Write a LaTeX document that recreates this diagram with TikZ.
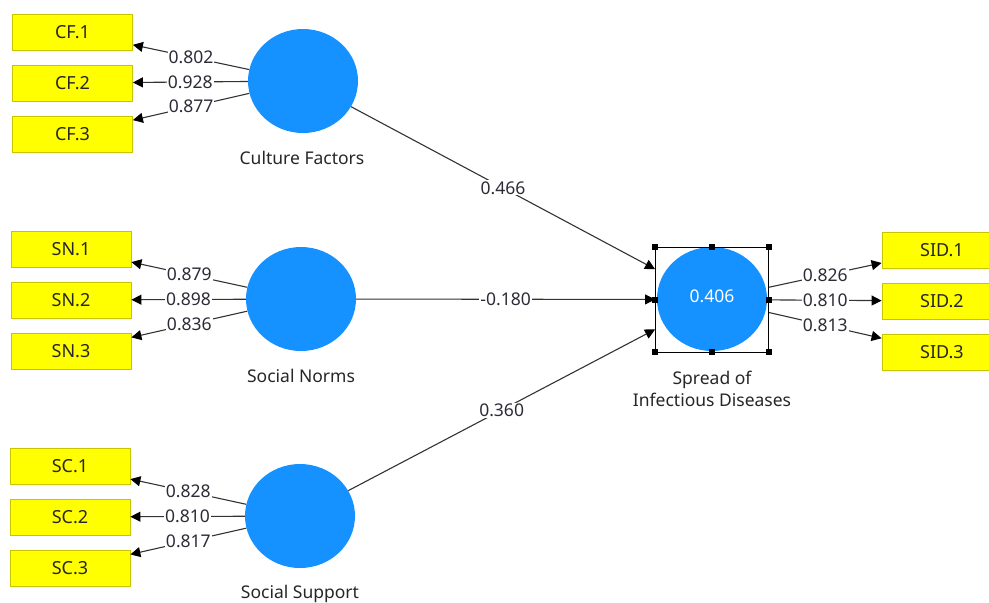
\documentclass[tikz,border=0pt]{standalone}
\usepackage{fontspec}
\setmainfont{Noto Sans}
\usetikzlibrary{arrows.meta,shapes.geometric}
\definecolor{indyellow}{HTML}{FFFF00}
\definecolor{yellowedge}{HTML}{C8C400}
\definecolor{lvblue}{HTML}{1592FF}
\definecolor{linegray}{HTML}{333333}
\definecolor{txt}{HTML}{262626}
\definecolor{numtxt}{HTML}{2E2A36}
\begin{document}
\begin{tikzpicture}[x=1pt,y=-1pt,
  ind/.style={draw=yellowedge, fill=indyellow, line width=0.8pt,
    minimum width=120pt, minimum height=36pt, inner sep=0pt,
    font=\fontsize{18}{20}\selectfont, text=txt},
  lv/.style={ellipse, fill=lvblue, minimum width=110pt, minimum height=104pt, inner sep=0pt},
  link/.style={draw=linegray, line width=1.1pt, -{Triangle[length=10pt,width=10pt,color=black]}},
  coef/.style={fill=white, inner sep=1pt, font=\fontsize{17.5}{19}\selectfont, text=numtxt},
  lvname/.style={font=\fontsize{17.5}{22}\selectfont, text=txt, align=center},
  handle/.style={fill=black, minimum size=6pt, inner sep=0pt}
]
\useasboundingbox (0,0) rectangle (989,603);
\clip (0,0) rectangle (989,603);

% latent variables
\node[lv] (cf) at (303,81) {};
\node[lv] (sn) at (301,299) {};
\node[lv] (ss) at (300,516) {};
\node[lv, text=white, font=\fontsize{17.5}{19}\selectfont] (sid) at (712,299) {\raisebox{5pt}{0.406}};
\node[draw=black, line width=0.9pt, minimum width=113pt, minimum height=105pt, inner sep=0pt] (sel) at (712,299.5) {};

% latent variable names
\node[lvname] (cfname) at (302,158) {Culture Factors};
\node[lvname] (snname) at (301,376) {Social Norms};
\node[lvname] (ssname) at (300,594) {Social Support};
\node[lvname] (sidname) at (712,389) {Spread of\\Infectious Diseases};

% indicators
\node[ind] (cf1) at (72.5,32) {CF.1};
\node[ind] (cf2) at (72.5,83) {CF.2};
\node[ind] (cf3) at (72.5,134) {CF.3};
\node[ind] (sn1) at (71,249) {SN.1};
\node[ind] (sn2) at (71,300) {SN.2};
\node[ind] (sn3) at (71,351) {SN.3};
\node[ind] (sc1) at (70,466) {SC.1};
\node[ind] (sc2) at (70,517) {SC.2};
\node[ind] (sc3) at (70,568) {SC.3};
\node[ind] (sid1) at (942,250) {SID.1};
\node[ind] (sid2) at (942,301) {SID.2};
\node[ind] (sid3) at (942,352) {SID.3};

% outer loadings
\draw[link] (cf) -- node[coef] {0.802} (cf1);
\draw[link] (cf) -- node[coef] {0.928} (cf2);
\draw[link] (cf) -- node[coef] {0.877} (cf3);
\draw[link] (sn) -- node[coef] {0.879} (sn1);
\draw[link] (sn) -- node[coef] {0.898} (sn2);
\draw[link] (sn) -- node[coef] {0.836} (sn3);
\draw[link] (ss) -- node[coef] {0.828} (sc1);
\draw[link] (ss) -- node[coef] {0.810} (sc2);
\draw[link] (ss) -- node[coef] {0.817} (sc3);
\draw[link] (sel) -- node[coef] {0.826} (sid1);
\draw[link] (sel) -- node[coef] {0.810} (sid2);
\draw[link] (sel) -- node[coef] {0.813} (sid3);

% path coefficients
\draw[link] (cf) -- node[coef] {0.466} (sel);
\draw[link] (sn) -- node[coef] {-0.180} (sel);
\draw[link] (ss) -- node[coef] {0.360} (sel);

% selection handles
\foreach \a in {north west,north,north east,east,south east,south,south west,west}
  \node[handle] at (sel.\a) {};
\end{tikzpicture}
\end{document}
